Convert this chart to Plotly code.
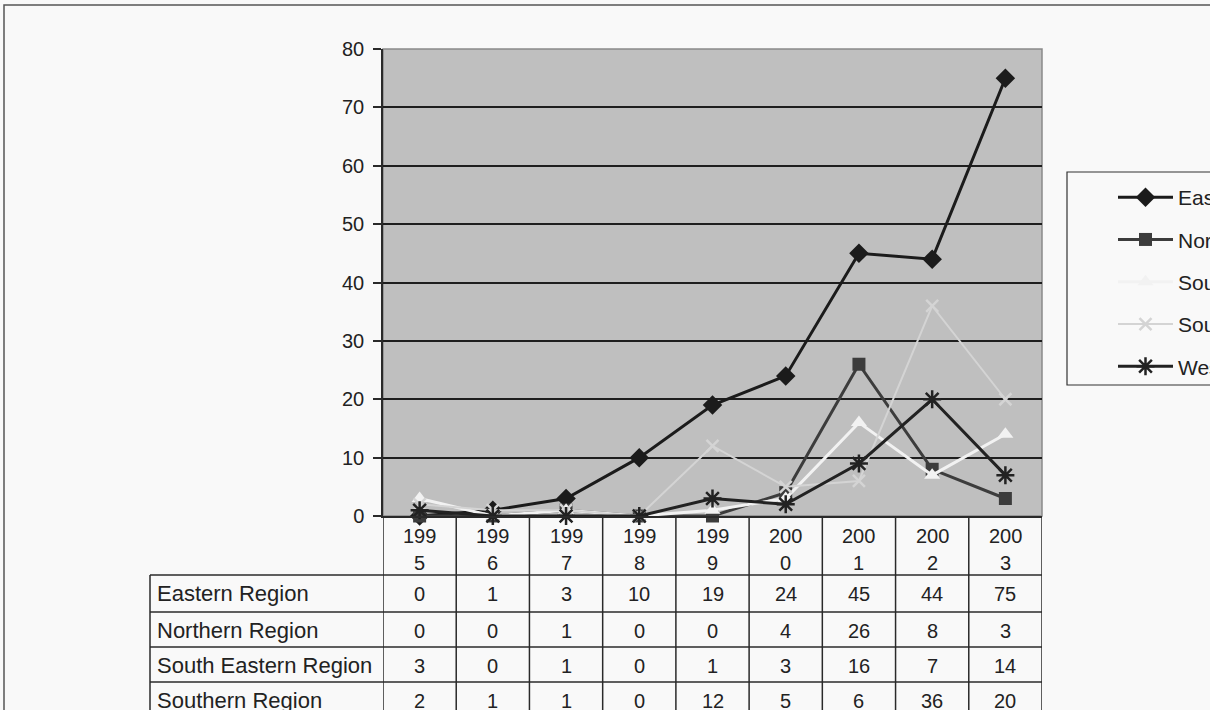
import plotly.graph_objects as go

# Annual counts by region
years = ["1995", "1996", "1997", "1998", "1999", "2000", "2001", "2002", "2003"]
eastern = [0, 1, 3, 10, 19, 24, 45, 44, 75]
northern = [0, 0, 1, 0, 0, 4, 26, 8, 3]
south_eastern = [3, 0, 1, 0, 1, 3, 16, 7, 14]
southern = [2, 1, 1, 0, 12, 5, 6, 36, 20]
western = [1, 0, 0, 0, 3, 2, 9, 20, 7]

series_names = ["Eastern Region", "Northern Region", "South Eastern Region",
                "Southern Region", "Western Region"]
series_values = [eastern, northern, south_eastern, southern, western]
y_ticks = [0, 10, 20, 30, 40, 50, 60, 70, 80]

W, H = 1210, 710
PL, PR, PT, PB = 383, 1042, 49, 516  # plot area in pixels


def px_x(px):
    return (px - PL) / (PR - PL)


def px_y(py):
    return (PB - py) / (PB - PT)


styles = [
    dict(color="#1b1b1b", width=3, symbol="diamond", size=15, mline=0),
    dict(color="#3c3c3c", width=3, symbol="square", size=13, mline=0),
    dict(color="#f2f2f2", width=3, symbol="triangle-up", size=14, mline=0),
    dict(color="#d4d4d4", width=2, symbol="x-thin", size=12, mline=2.5),
    dict(color="#222222", width=3, symbol="asterisk", size=15, mline=2.5),
]

FAMILY = "Liberation Sans, Arial, sans-serif"
xs = list(range(len(years)))
fig = go.Figure()
for i, (name, vals, st) in enumerate(zip(series_names, series_values, styles)):
    fig.add_trace(go.Scatter(
        x=xs, y=vals, name=name, mode="lines+markers",
        legendgroup=f"g{i}",
        line=dict(color=st["color"], width=st["width"]),
        marker=dict(symbol=st["symbol"], size=st["size"], color=st["color"],
                    line=dict(color=st["color"], width=st["mline"])),
        cliponaxis=False,
    ))

shapes = []
annotations = []
dark = "#2a2a2a"

# frame around the whole chart
shapes.append(dict(type="rect", xref="paper", yref="paper",
                   x0=px_x(4), x1=px_x(1230), y0=px_y(730), y1=px_y(5),
                   line=dict(color="#555555", width=1.5), layer="below"))
# grey outline on the plot area
shapes.append(dict(type="rect", xref="paper", yref="paper",
                   x0=0, x1=1, y0=0, y1=1,
                   line=dict(color="#8a8a8a", width=1.5), layer="below"))

# data table below the axis
row_tops = [575, 612, 647, 682, 717]
row_h = 35
label_left = 150
table_bottom = 760
for k in range(len(years) + 1):
    shapes.append(dict(type="line", xref="x", yref="paper",
                       x0=k - 0.5, x1=k - 0.5, y0=px_y(PB), y1=px_y(table_bottom),
                       line=dict(color=dark, width=1.5)))
shapes.append(dict(type="line", xref="paper", yref="paper",
                   x0=px_x(label_left), x1=px_x(label_left),
                   y0=px_y(row_tops[0]), y1=px_y(table_bottom),
                   line=dict(color=dark, width=1.5)))
for rt in row_tops + [row_tops[-1] + row_h]:
    shapes.append(dict(type="line", xref="paper", yref="paper",
                       x0=px_x(label_left), x1=1, y0=px_y(rt), y1=px_y(rt),
                       line=dict(color=dark, width=1.5)))

num_font = dict(family=FAMILY, size=20, color="#222222")
label_font = dict(family=FAMILY, size=22, color="#222222")
# year headers, wrapped onto two lines
for j, yr in enumerate(years):
    annotations.append(dict(x=j, y=px_y(536), xref="x", yref="paper", text=yr[:3],
                            showarrow=False, font=num_font, xanchor="center", yanchor="middle"))
    annotations.append(dict(x=j, y=px_y(563), xref="x", yref="paper", text=yr[3:],
                            showarrow=False, font=num_font, xanchor="center", yanchor="middle"))

for r, (name, vals) in enumerate(zip(series_names, series_values)):
    cy = row_tops[r] + row_h / 2 + 1
    annotations.append(dict(x=px_x(155), y=px_y(cy), xref="paper", yref="paper",
                            text=name, showarrow=False, font=label_font,
                            xanchor="left", yanchor="middle"))
    for j, v in enumerate(vals):
        annotations.append(dict(x=j, y=px_y(cy), xref="x", yref="paper", text=str(v),
                                showarrow=False, font=num_font,
                                xanchor="center", yanchor="middle"))

# legend frame
shapes.append(dict(type="rect", xref="paper", yref="paper",
                   x0=px_x(1067), x1=px_x(1240), y0=px_y(385), y1=px_y(172),
                   line=dict(color="#333333", width=1.2)))

fig.update_layout(
    width=W, height=H,
    margin=dict(l=PL, r=W - PR, t=PT, b=H - PB, pad=0, autoexpand=False),
    paper_bgcolor="#f9f9f9",
    plot_bgcolor="#bfbfbf",
    font=dict(family=FAMILY, color="#222222"),
    showlegend=True,
    legend=dict(
        x=px_x(1113), y=px_y(177), xanchor="left", yanchor="top",
        bgcolor="rgba(0,0,0,0)", borderwidth=0,
        font=dict(size=21, color="#222222"),
        itemwidth=55, tracegroupgap=12,
    ),
    xaxis=dict(
        range=[-0.5, len(years) - 0.5], showgrid=False, zeroline=False,
        showticklabels=False, ticks="", showline=True,
        linecolor=dark, linewidth=1.5,
    ),
    yaxis=dict(
        range=[0, 80], tickvals=y_ticks, ticktext=[str(t) for t in y_ticks],
        showgrid=True, gridcolor="#1e1e1e", gridwidth=1.5, zeroline=False,
        showline=True, linecolor=dark, linewidth=1.5,
        ticks="outside", ticklen=8, tickcolor=dark, tickwidth=1.5,
        tickfont=dict(size=20, color="#222222"), ticklabelstandoff=5,
    ),
    shapes=shapes,
    annotations=annotations,
)

fig.write_html("out.html")
